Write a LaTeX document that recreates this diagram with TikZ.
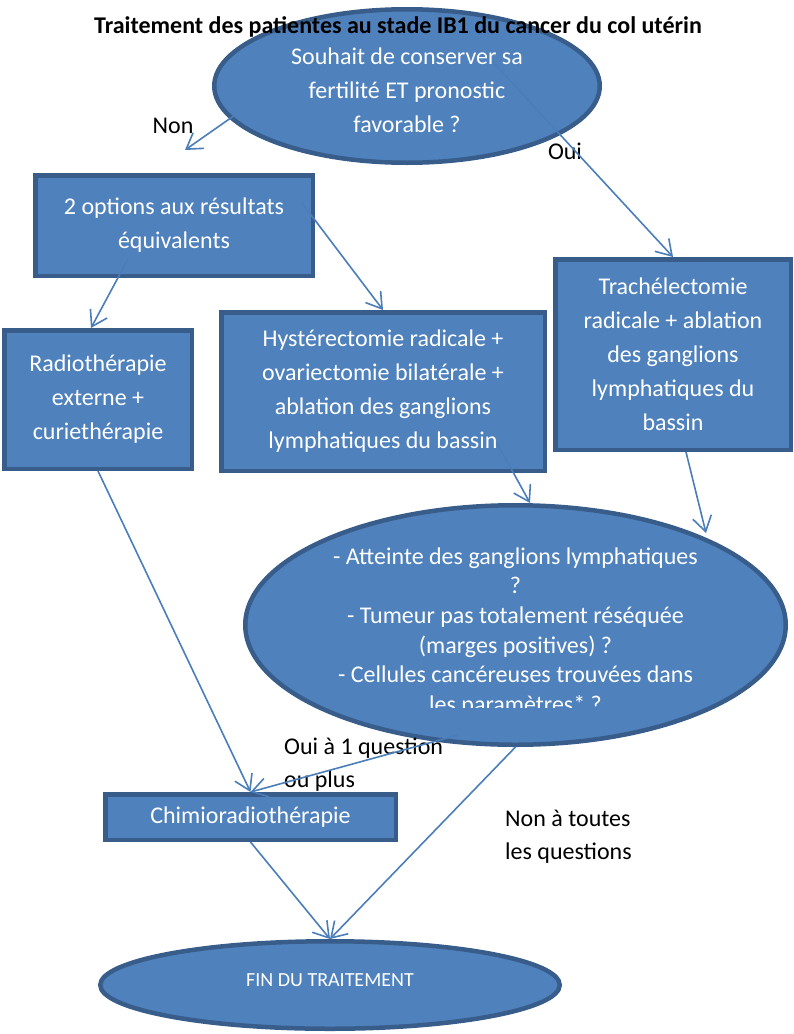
\documentclass[tikz,border=0pt]{standalone}
\usepackage{fontspec}
\setmainfont{Carlito}
\usetikzlibrary{shapes.geometric, arrows.meta}
\definecolor{remplissage}{HTML}{4F81BD}
\definecolor{bordure}{HTML}{385D8A}
\definecolor{trait}{HTML}{4A7EBB}

\begin{document}
\begin{tikzpicture}[x=1pt,y=-1pt,
  boite/.style={rectangle,draw=bordure,fill=remplissage,line width=4.5pt,text=white,align=center,font=\fontsize{24}{34}\selectfont},
  ovale/.style={ellipse,draw=bordure,fill=remplissage,line width=4.5pt,inner sep=0pt},
  texte/.style={text=white,align=center,inner sep=0pt,font=\fontsize{24}{34}\selectfont},
  etiq/.style={align=left,inner sep=0pt,font=\fontsize{24}{33}\selectfont},
  fleche/.style={color=trait,line width=1.6pt,-{Straight Barb[length=15pt,width=19pt]}}]

  \useasboundingbox (0,0) rectangle (794,1034);

  \node[ovale,minimum width=385.5pt,minimum height=153.5pt] (q1) at (407,86) {};
  \node[texte] (q1txt) at (407,90) {Souhait de conserver sa\\fertilité ET pronostic\\favorable ?};
  \node[font=\bfseries\fontsize{24}{29}\selectfont,anchor=base,inner sep=0pt] (titre) at (398,33) {Traitement des patientes au stade IB1 du cancer du col utérin};

  \node[boite,minimum width=277.5pt,minimum height=100.5pt] (opt) at (174,225.5) {2 options aux résultats\\équivalents};
  \node[boite,minimum width=187.5pt,minimum height=138.5pt] (radio) at (98,399.5) {Radiothérapie\\externe +\\curiethérapie};
  \node[boite,minimum width=323.5pt,minimum height=158.5pt] (hyst) at (383,391.5) {Hystérectomie radicale +\\ovariectomie bilatérale +\\ablation des ganglions\\lymphatiques du bassin};
  \node[boite,minimum width=235.5pt,minimum height=190.5pt] (trach) at (673,354.5) {Trachélectomie\\radicale + ablation\\des ganglions\\lymphatiques du\\bassin};

  \node[ovale,minimum width=540.5pt,minimum height=239.5pt] (bilan) at (515.5,625) {};
  \begin{scope}
    \clip (243,480) rectangle (788,707);
    \node[texte,font=\fontsize{24}{29.7}\selectfont] (bilantxt) at (515.5,632) {- Atteinte des ganglions lymphatiques\\?\\- Tumeur pas totalement réséquée\\(marges positives) ?\\- Cellules cancéreuses trouvées dans\\les paramètres* ?};
  \end{scope}

  \node[boite,minimum width=290.5pt,minimum height=45.5pt] (chimio) at (250.5,817) {Chimioradiothérapie};
  \node[ovale,minimum width=459.5pt,minimum height=87.5pt] (fin) at (330,985) {};
  \node[texte,font=\fontsize{20}{24}\selectfont] (fintxt) at (330,980) {FIN DU TRAITEMENT};

  \node[etiq,anchor=base] (non) at (173,133) {Non};
  \node[etiq,anchor=base] (oui) at (565,159) {Oui};
  \node[etiq,anchor=base west] (ouiplus) at (284,787) {Oui à 1 question\\ou plus};
  \node[etiq,anchor=base west] (nonall) at (505,859) {Non à toutes\\les questions};
  \coordinate (nonbout) at (185,150);

  \path[fleche]
    ([shift={(-172,29)}]q1.center) edge (nonbout)
    ([shift={(86,-24)}]q1.center) edge (trach.north)
    ([shift={(-46,33.5)}]opt.center) edge ([shift={(-7,0)}]radio.north)
    ([shift={(128,-22.5)}]opt.center) edge (hyst.north)
    ([shift={(114,51.5)}]hyst.center) edge ([shift={(14.5,0)}]bilan.north)
    ([shift={(13,0)}]trach.south) edge ([shift={(190.5,-92)}]bilan.center)
    (radio.south) edge (chimio.north)
    ([shift={(-57.5,110)}]bilan.center) edge (chimio.north)
    (bilan.south) edge (fin.north)
    (chimio.south) edge (fin.north);
\end{tikzpicture}
\end{document}
